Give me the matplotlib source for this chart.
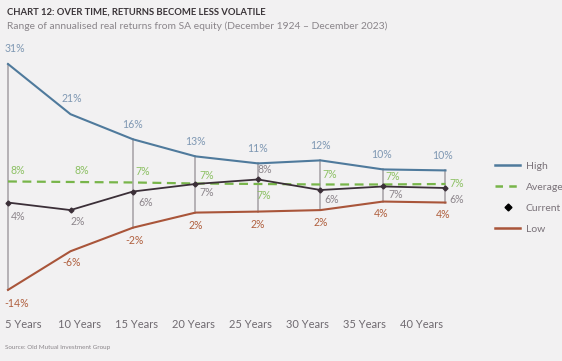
import matplotlib.pyplot as plt
from matplotlib.lines import Line2D

periods = ["5 Years", "10 Years", "15 Years", "20 Years", "25 Years", "30 Years", "35 Years", "40 Years"]
high = [31.0, 21.0, 16.0, 12.6, 11.2, 11.8, 10.0, 9.8]
average = [7.6, 7.5, 7.4, 7.2, 7.1, 7.0, 7.0, 7.1]
current = [3.4, 1.9, 5.6, 7.1, 8.0, 5.9, 6.6, 6.3]
low = [-14.0, -6.3, -1.6, 1.4, 1.6, 1.9, 3.6, 3.4]

high_lbl = ["31%", "21%", "16%", "13%", "11%", "12%", "10%", "10%"]
avg_lbl = ["8%", "8%", "7%", "7%", "7%", "7%", "7%", "7%"]
cur_lbl = ["4%", "2%", "6%", "7%", "8%", "6%", "7%", "6%"]
low_lbl = ["-14%", "-6%", "-2%", "2%", "2%", "2%", "4%", "4%"]

BG = "#f2f1f2"
C_HIGH, C_HIGH_T = "#4f7a9c", "#7f98b3"
C_AVG, C_AVG_T = "#78b54a", "#8cc063"
C_CUR, C_CUR_T = "#3b2f38", "#8c858b"
C_LOW, C_LOW_T = "#a9553a", "#b0603f"
C_GRID = "#aaa6aa"
FONT = "Lato"

W, H = 562, 361
fig = plt.figure(figsize=(W / 100, H / 100), dpi=100, facecolor=BG)
ax = fig.add_axes([0, 0, 1, 1])
ax.set_facecolor(BG)
ax.axis("off")

# pixel mapping: x index 0 at px 8, step 62.5 px; value 31 at px 64 from top, 5.02 px per point
x0, dx = 8, 62.5
y31, dy = 64, 5.02
ax.set_xlim(-x0 / dx, (W - x0) / dx)
ax.set_ylim(31 - (H - y31) / dy, 31 + y31 / dy)

xs = list(range(len(periods)))

# vertical range bars (none drawn at 10 years in the original)
for i in xs:
    if i == 1:
        continue
    ax.plot([i, i], [low[i], high[i]], color=C_GRID, lw=1.2, zorder=1)

ax.plot(xs, high, color=C_HIGH, lw=1.5, zorder=3)
ax.plot(xs, low, color=C_LOW, lw=1.5, zorder=3)
ax.plot(xs, average, color=C_AVG, lw=1.6, ls=(0, (4, 2.5)), zorder=4)
ax.plot(xs, current, color=C_CUR, lw=1.3, marker="D", ms=2.5, zorder=5)

fs = 7.6
high_dx = [5, 1, 0, 0, 0, 0, -1, -2]
low_dx = [6, 1, 1, 0, 0, 0, -1, -2]
low_dy = [-6, -4, -5, -5, -5, -5, -5, -5]
for i in xs:
    ax.annotate(high_lbl[i], (i, high[i]), xytext=(high_dx[i], 7), textcoords="offset points",
                ha="center", va="bottom", color=C_HIGH_T, fontsize=fs, family=FONT)
    ax.annotate(low_lbl[i], (i, low[i]), xytext=(low_dx[i], low_dy[i]), textcoords="offset points",
                ha="center", va="top", color=C_LOW_T, fontsize=fs, family=FONT)

avg_off = [(7, 4), (8, 4), (7, 4), (8, 2), (4, -4), (7, 3), (7, 2), (8, 0)]
cur_off = [(7, -6), (5, -4), (9, -4), (8, -2), (5, 3), (8, -3), (9, -2), (8, -4)]
for i in xs:
    ox, oy = avg_off[i]
    va = "bottom" if oy > 0 else ("top" if oy < 0 else "center")
    ax.annotate(avg_lbl[i], (i, average[i]), xytext=(ox, oy), textcoords="offset points",
                ha="center", va=va, color=C_AVG_T, fontsize=fs, family=FONT)
    ox, oy = cur_off[i]
    ax.annotate(cur_lbl[i], (i, current[i]), xytext=(ox, oy), textcoords="offset points",
                ha="center", va="bottom" if oy > 0 else "top", color=C_CUR_T, fontsize=fs, family=FONT)

# category labels (spaced tighter than the points, as in the original)
for i, p in enumerate(periods):
    fig.text((23 + i * 56.9) / W, 1 - 324 / H, p, ha="center", va="center",
             color="#6f6a70", fontsize=8, family=FONT)

handles = [
    Line2D([], [], color=C_HIGH, lw=1.8),
    Line2D([], [], color=C_AVG, lw=1.8, ls=(0, (3, 2.5))),
    Line2D([], [], color="black", ls="none", marker="D", ms=3.5),
    Line2D([], [], color=C_LOW, lw=1.8),
]
leg = fig.legend(handles, ["High", "Average", "Current", "Low"], loc="upper left",
                 bbox_to_anchor=(486 / W, 1 - 152 / H), frameon=False, handlelength=2.4,
                 handletextpad=0.5, labelspacing=1.12, prop={"family": FONT, "size": 7.5})
for t in leg.get_texts():
    t.set_color("#7a7279")

fig.text(7 / W, 1 - 12 / H, "CHART 12: OVER TIME, RETURNS BECOME LESS VOLATILE",
         ha="left", va="center", fontsize=6.85, color="#3a3438", family=FONT, weight="bold")
fig.text(7 / W, 1 - 26 / H, "Range of annualised real returns from SA equity (December 1924 \u2013 December 2023)",
         ha="left", va="center", fontsize=7.35, color="#8a858a", family=FONT)
fig.text(5 / W, 1 - 348 / H, "Source: Old Mutual Investment Group",
         ha="left", va="center", fontsize=4.5, color="#8a858a", family=FONT)

fig.savefig("out.png", dpi=100, facecolor=BG)
